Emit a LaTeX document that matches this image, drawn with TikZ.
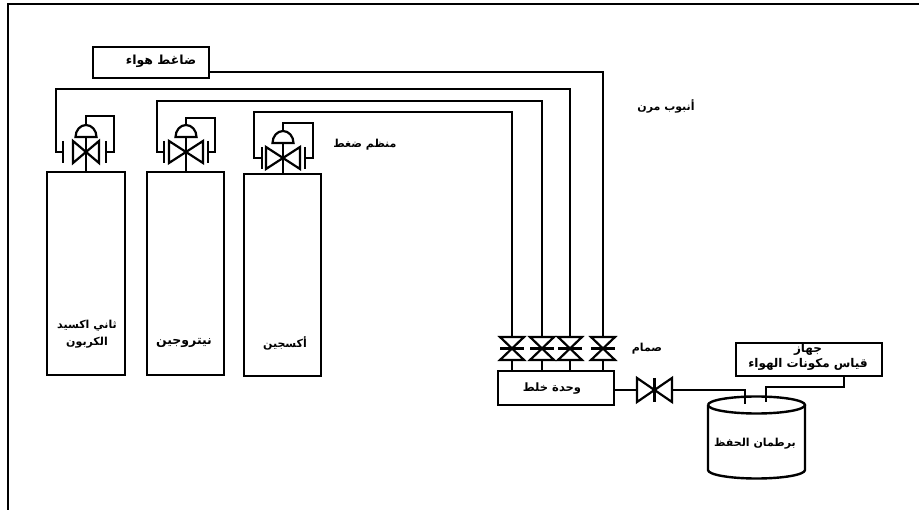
\documentclass[tikz,border=0pt]{standalone}
\usepackage{fontspec}
\TeXXeTstate=1
\newfontfamily\arabicfont[Script=Arabic]{DejaVu Sans}
\begin{document}
\begin{tikzpicture}[x=1pt, y=-1pt]
	\tikzset{t/.style={font=\arabicfont\bfseries\fontsize{11}{17}\selectfont, align=center, inner sep=0pt},
	tm/.style={font=\arabicfont\bfseries\fontsize{12.5}{15}\selectfont},
	box/.style={draw=black, line width=2.4pt, inner sep=0pt, t},
	pipe/.style={line width=2.4pt, line join=miter},
	reg/.style={line width=2.2pt, line join=miter}};

	\useasboundingbox (0,0) rectangle (919,510);
	\draw[line width=2.2pt] (8,510) -- (8,4) -- (919,4);

	% cylinders
	\node[box, minimum width=78pt, minimum height=203pt] (co) at (86,273.5) {};
	\node[box, minimum width=77pt, minimum height=203pt] (nit) at (185.5,273.5) {};
	\node[box, minimum width=77pt, minimum height=202pt] (oxy) at (282.5,275) {};
	\node[t] (colabel) at (87,334) {\beginR ثاني اكسيد\endR\\\beginR الكربون\endR};
	\node[t, tm] (nitlabel) at (184,343) {\beginR نيتروجين\endR};
	\node[t] (oxylabel) at (285,343) {\beginR أكسجين\endR};

	% regulators
	\foreach \name/\x/\y/\ty/\w/\pl/\pr/\px in {co/86/152/116/13/63/106/114, nit/186/152/118/17/164/208/215, oxy/283/158/123/17/262/305/313} {
		\coordinate (\name l) at (\pl,\y);
		\coordinate (\name r) at (\pr,\y);
		\coordinate (\name s) at (\x,\y-15);
		\draw[reg] (\pl,\y-11) -- (\pl,\y+11);
		\draw[reg] (\pr,\y-11) -- (\pr,\y+11);
		\draw[reg] (\x-\w,\y-11) -- (\x+\w,\y+11) -- (\x+\w,\y-11) -- (\x-\w,\y+11) -- cycle;
		\draw[reg] (\name s) -- (\name s |- \name.north);
		\draw[reg] (\x-10.5,\y-15) arc[start angle=180, end angle=0, x radius=10.5, y radius=-12] -- cycle;
		\draw[reg] (\x,\y-27) -- (\x,\ty) -- (\px,\ty) -- (\px,\y) -- (\name r);
	}

	% compressor
	\node[box, minimum width=116pt, minimum height=31pt] (comp) at (151,62.5) {};
	\node[t, tm] (complabel) at (161,61) {\beginR ضاغط هواء\endR};

	% mixer and valves
	\node[box, minimum width=116pt, minimum height=34pt] (mix) at (556,388) {};
	\node[t, font=\arabicfont\bfseries\fontsize{11.5}{15}\selectfont] (mixlabel) at (552,389) {\beginR وحدة خلط\endR};
	\foreach \name/\x in {va/512, vb/542, vc/570, vd/603} {
		\coordinate (\name t) at (\x,337);
		\coordinate (\name b) at (\x,360);
		\draw[reg] (\x-12,337) -- (\x+12,360) -- (\x-12,360) -- (\x+12,337) -- cycle;
		\draw[reg] (\x-12,348.5) -- (\x+12,348.5);
		\draw[reg] (\name b) -- (\name b |- mix.north);
	}

	% pipes
	\draw[pipe] (comp.east |- 0,72) -- (vdt |- 0,72) -- (vdt);
	\draw[pipe] (col) -- (56,152) -- (56,89) -- (vct |- 0,89) -- (vct);
	\draw[pipe] (nitl) -- (157,152) -- (157,101) -- (vbt |- 0,101) -- (vbt);
	\draw[pipe] (oxyl) -- (254,158) -- (254,112) -- (vat |- 0,112) -- (vat);

	% outlet valve
	\coordinate (vout) at (654.5,390);
	\draw[reg] (637,378) -- (672,402) -- (672,378) -- (637,402) -- cycle;
	\draw[reg] (vout |- 0,378) -- (vout |- 0,402);
	\draw[pipe] (mix.east |- vout) -- (637,390);

	% jar
	\draw[pipe] (708,405) arc[start angle=180, end angle=540, x radius=48.5, y radius=8.5];
	\draw[pipe] (708,405) -- (708,470) arc[start angle=180, end angle=360, x radius=48.5, y radius=-8.5] -- (805,405);
	\node[t] (jarlabel) at (755,444) {\beginR برطمان الحفظ\endR};

	% analyser
	\node[box, minimum width=146pt, minimum height=33pt] (meter) at (809,359.5) {};
	\node[t, font=\arabicfont\bfseries\fontsize{12}{15}\selectfont] (meterlabel) at (808,357) {\beginR جهاز\endR\\\beginR قياس مكونات الهواء\endR};
	\draw[pipe] (672,390) -- (745,390) -- (745,404);
	\draw[pipe] (844,376) -- (844,387) -- (766,387) -- (766,402);

	% free labels
	\node[t] (hose) at (666,106) {\beginR أنبوب مرن\endR};
	\node[t] (reglabel) at (365,145) {\beginR منظم ضغط\endR};
	\node[t] (valvelabel) at (647,349) {\beginR صمام\endR};
\end{tikzpicture}
\end{document}
